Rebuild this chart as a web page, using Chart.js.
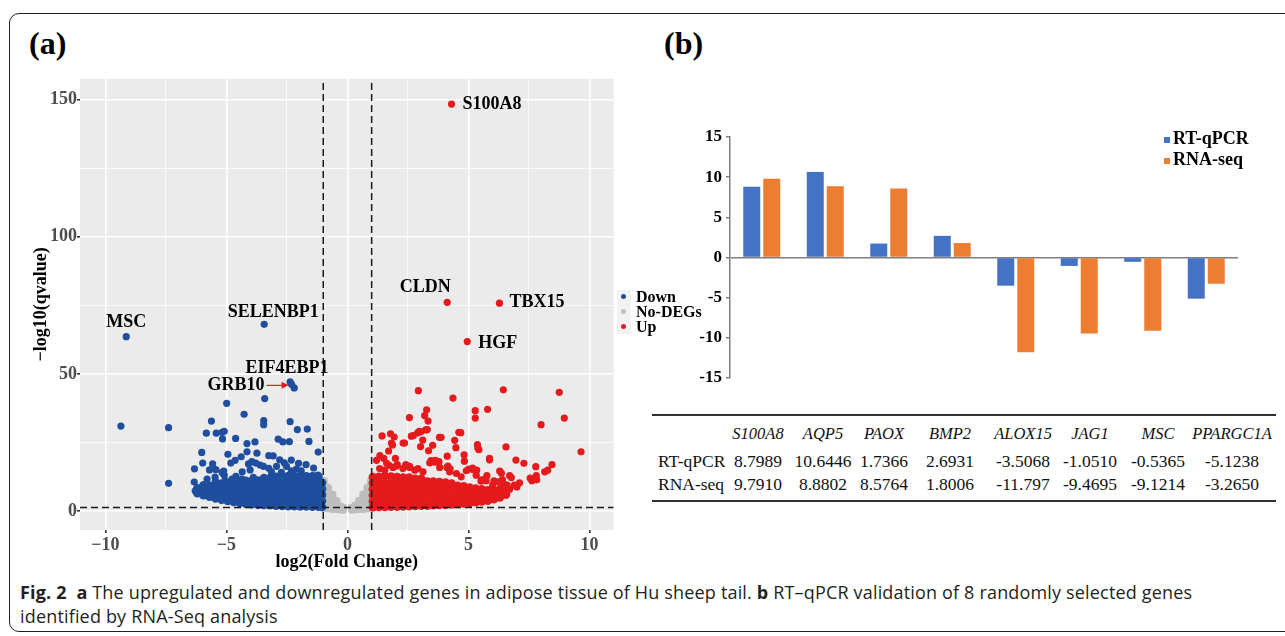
<!DOCTYPE html>
<html>
<head>
<meta charset="utf-8">
<script src="https://cdn.jsdelivr.net/npm/chart.js@4.4.1/dist/chart.umd.min.js"></script>
<style>
  body { margin: 0; width: 1285px; height: 636px; background: #fff; position: relative; overflow: hidden; font-family: "Liberation Serif", serif; }
  .frame { position: absolute; left: 9px; top: 13px; width: 1330px; height: 617px; border: 1.5px solid #231f20; border-radius: 10px; }
  .tag { position: absolute; top: 25px; font: bold 32px "Liberation Serif", serif; color: #000; }
  #wrapA { position: absolute; left: 14px; top: 68px; }
  #wrapB { position: absolute; left: 650px; top: 110px; }
  .legA { position: absolute; left: 617px; top: 289px; font: bold 16px "Liberation Serif", serif; }
  .legA .keys { position: absolute; left: 0; top: 1px; width: 14px; height: 44px; background: #F2F2F2; }
  .legA .item { position: absolute; left: 0; height: 15px; line-height: 15px; white-space: nowrap; }
  .legA .dot { position: absolute; left: 4px; top: 5px; width: 5px; height: 5px; border-radius: 50%; }
  .legA .txt { position: absolute; left: 19px; top: 0; }
  .legB { position: absolute; left: 1164px; top: 128px; font: bold 18px "Liberation Serif", serif; }
  .legB .item { position: relative; height: 21px; line-height: 21px; padding-left: 9px; white-space: nowrap; }
  .legB .sq { position: absolute; left: 0; top: 9px; width: 6px; height: 6px; }
  .tbl { position: absolute; left: 652px; top: 414px; width: 624px; height: 84px; border-top: 2px solid #333; border-bottom: 2px solid #333; font-size: 17.5px; color: #111; }
  .tbl span { position: absolute; transform: translate(-50%, -50%); white-space: nowrap; }
  .tbl span.lab { transform: translate(0, -50%); }
  .tbl span.hd { font-style: italic; font-size: 16.5px; }
  .caption { position: absolute; left: 20px; top: 580px; width: 1260px; font: 18px "Open Sans", sans-serif; letter-spacing: 0.17px; line-height: 24px; color: #231f20; white-space: nowrap; }
  .caption b { font-weight: 700; }
</style>
</head>
<body>
<div class="frame"></div>
<div class="tag" style="left:29px">(a)</div>
<div class="tag" style="left:664px">(b)</div>

<div id="wrapA"><canvas id="volcano" width="604" height="507"></canvas></div>
<div class="legA" id="legA"><div class="keys"></div></div>

<div id="wrapB"><canvas id="bars" width="600" height="290"></canvas></div>
<div class="legB" id="legB"></div>

<div class="tbl" id="tbl"></div>

<div class="caption"><b>Fig. 2</b>&nbsp; <b>a</b> The upregulated and downregulated genes in adipose tissue of Hu sheep tail. <b>b</b> RT–qPCR validation of 8 randomly selected genes<br>identified by RNA-Seq analysis</div>

<script>
// ---- volcano data (log2 fold change, -log10 qvalue)
const labelGenes = ['S100A8', 'CLDN', 'TBX15', 'HGF', 'MSC', 'SELENBP1', 'EIF4EBP1', 'GRB10'];
const labelFC    = [4.30, 4.12, 6.28, 4.95, -9.14, -3.44, -2.37, -2.31];
const labelQ     = [148.4, 76.1, 75.8, 61.8, 63.6, 68.1, 47.1, 46.2];

const downOutliers = [
  [-9.36,31],[-7.39,30.4],[-7.39,10.1],[-2.2,44.9],[-4.99,39.3],[-3.42,41],[-5.62,32.8],[-4.27,35.3],
  [-3.46,33],[-3.46,31.5],[-2.37,32.6],[-5.83,28.4],[-5.42,28.4],[-5.18,28.7],[-5.09,29.1],[-5.16,26.3],
  [-4.62,26.5],[-2.07,29.7],[-1.66,29.9],[-2.86,26.2],[-2.67,25.2],[-2.4,25.3],[-1.59,25.4],[-4.15,24.6],
  [-3.82,25.2],[-1.21,21.5],[-6.02,21.4],[-4.94,20.7],[-4.15,21.6],[-3.74,21.1],[-4.39,19.8],[-3.25,20.2],
  [-3.07,20.1],[-5.98,17.5],[-5.57,17.2],[-4.82,17.5],[-4.64,18.5],[-2.8,18.7],[-2.61,17.6],[-2.32,18.6],
  [-2.02,17.4],[-1.71,16.9],[-6.32,15.4],[-5.7,15],[-5.44,15.1],[-5.11,14.6],[-4.35,14.3],[-4.02,15],
  [-1.4,15.7],[-6.33,10.6],[-5.8,11.7],[-5.47,12.4],[-5.09,13.1],[-6.03,8.4],[-6.29,7.4],
  [-5.18,14.1],[-4.77,11.7],[-4.61,12.7],[-4.09,17.2],[-3.95,18],[-3.79,17.5],[-3.61,16.8],[-3.47,16.3],
  [-3.25,15.6],[-3.14,14.3],[-2.93,16.3],[-2.73,14.1],[-2.52,16.3],[-2.32,14.7],[-2.11,15.3],[-1.91,14.7],
  [-1.66,12.7],[-1.43,12.9],[-1.22,13.1],[-5.46,11.1],[-5.73,9.2],[-5.05,11.1],[-4.36,11.7],[-3.89,12.3],[-2.86,11.7]
];
const downCore = [
  [-6.2,[6.5,8.3]],[-5.95,[5.8,7.8,9.4]],[-5.7,[5.2,7.3,9.2]],[-5.45,[4.6,6.8,9,10]],
  [-5.2,[4.1,6.3,8.5,10]],[-4.95,[3.7,5.9,8.1,10.2]],[-4.7,[3.3,5.5,7.7,9.9]],[-4.45,[3,5.2,7.4,9.6,10.8]],
  [-4.2,[2.7,4.9,7.1,9.3,11]],[-3.95,[2.5,4.7,6.9,9.1,11]],[-3.7,[2.3,4.5,6.7,8.9,11.1]],
  [-3.45,[2.2,4.4,6.6,8.8,11,12]],[-3.2,[2.1,4.3,6.5,8.7,10.9,12]],[-2.95,[2,4.2,6.4,8.6,10.8,12.5]],
  [-2.7,[1.9,4.1,6.3,8.5,10.7,12.5]],[-2.45,[1.8,4,6.2,8.4,10.6,12.8]],[-2.2,[1.8,4,6.2,8.4,10.6,12.8]],
  [-1.95,[1.7,3.9,6.1,8.3,10.5,12.7]],[-1.7,[1.7,3.9,6.1,8.3,10.5,12.7]],[-1.45,[1.6,3.8,6,8.2,10.4,12.6]],
  [-1.2,[1.6,3.8,6,8.2,10.4,12.6]],[-1.05,[1.5,3.7,5.9,8.1,10.3]]
];
const upOutliers = [
  [2.93,43.9],[4.36,41.2],[6.44,44.2],[8.75,43.3],[5.28,36.6],[5.28,33.9],[5.79,37.1],[8.96,33.9],[8.0,31.5],
  [3.27,36.9],[3.19,34.8],[3.33,32.8],[2.56,34.1],[4.6,28.7],[3.23,29.6],[2.97,29.1],[2.9,28.5],[2.64,27.3],
  [3.8,26.9],[1.43,27.4],[1.78,28.2],[1.93,27],[1.82,24.8],[1.86,24.1],[2.3,24.8],[3.11,25.9],[4.43,25.8],
  [3.02,23.5],[3.35,22],[3.52,24],[4.48,23.1],[5.37,24.2],[5.39,22.9],[5.43,22.4],[6.55,23.4],[1.7,21.9],
  [4.12,20],[4.82,20.5],[4.83,18.2],[5.87,19.2],[5.87,18.7],[6.96,18.6],[7.29,17.4],[7.78,16.2],[8.45,16.9],
  [8.15,14.3],[8.27,14.9],[9.65,21.6],[1.2,18.5],[1.34,20.2],[1.5,19.2],[1.98,19.2],[1.62,17.4],[2.06,16.9],
  [2.41,16.9],[2.57,16.3],[3.45,18.4],[3.63,18.5],[3.78,18],[4.15,16.4],[4.24,15.4],[5.01,15.3],[5.17,15.7],
  [5.34,14.9],[6.29,14.6],[6.36,13.8],[6.7,12.9],[6.77,12.2],[7.11,10.3],[7.0,8.8],[7.55,12],[7.62,11.1],
  [7.8,12.9],[7.82,11.4],[6.18,10.7],[5.76,12.9],[5.52,10.9],[5.59,11.4],[4.68,28.6],[3.87,26.9],[2.72,27.5],
  [3.03,28.9],[3.3,29.7],[2.36,24.8],
  [1.33,15.5],[1.54,14.9],[1.72,16.7],[1.88,15.9],[2.02,16.4],[2.29,15.5],[2.43,16.4],[2.57,15.9],[2.78,14.9],
  [2.91,15.5],[3.12,14.3],[3.4,17.6],[3.6,17.8],[3.81,15.9],[4.11,15.9],[4.22,14.3],[4.5,13.7],[4.7,12.5],
  [4.91,14.7],[5.18,15.2],[5.32,13.1],[5.53,11.3],[5.73,11],
  [6.0,9.5],[6.1,7.5],[6.2,6.5],[6.35,8.5],[6.45,10],[6.55,7.5],[6.6,9.5],[6.7,8],[6.9,9.5],[6.4,11.5],[6.05,11]
];
const upCore = [
  [1.05,[1.4,3.6,5.8,8,10.2,12.4]],[1.3,[1.5,3.7,5.9,8.1,10.3,12.5]],[1.55,[1.5,3.7,5.9,8.1,10.3,12.8]],
  [1.8,[1.6,3.8,6,8.2,10.4,12.6]],[2.05,[1.6,3.8,6,8.2,10.4,12.4]],[2.3,[1.7,3.9,6.1,8.3,10.5,12.2]],
  [2.55,[1.8,4,6.2,8.4,10.6,12.2]],[2.8,[1.9,4.1,6.3,8.5,10.7,11.8]],[3.05,[2,4.2,6.4,8.6,10.8,11.8]],
  [3.3,[2,4.2,6.4,8.6,10.8]],[3.55,[2.1,4.3,6.5,8.7,10.8]],[3.8,[2.2,4.4,6.6,8.8,10.6]],
  [4.05,[2.3,4.5,6.7,8.9,10.4]],[4.3,[2.4,4.6,6.8,9,10]],[4.55,[2.6,4.8,7,9.2]],[4.8,[2.8,5,7.2,9]],
  [5.05,[3,5.2,7.4,8.6]],[5.3,[3.2,5.4,7.6,8.2]],[5.55,[3.5,5.7,7.9]],[5.8,[3.8,5.9,7.6]],
  [6.05,[4.3,6.2,7.6]],[6.3,[5,6.8,8]],[6.55,[6,7.8]]
];
const noDegCore = [
  [-0.97,[1,3,5,7,9,11]],[-0.8,[1,3,5,7,8.5]],[-0.62,[0.8,2.8,4.6,6]],[-0.45,[0.8,2.5,3.8]],
  [-0.3,[0.6,1.8]],[-0.18,[0.5,1.2]],[0.18,[0.5,1.2]],[0.32,[0.6,2]],[0.48,[0.8,2.5,3.8]],
  [0.65,[0.8,2.8,4.6,6]],[0.82,[1,3,5,7,8.5]],[0.97,[1,3,5,7,9,11]]
];
const fcCut = [-1, 1];
const qCut = 1.3;
const xTickVals = [-10, -7.5, -5, -2.5, 0, 2.5, 5, 7.5, 10];
const yTickVals = [0, 25, 50, 75, 100, 125, 150];

// ---- RT-qPCR validation data
const genes = ['S100A8', 'AQP5', 'PAOX', 'BMP2', 'ALOX15', 'JAG1', 'MSC', 'PPARGC1A'];
const qpcrText = ['8.7989', '10.6446', '1.7366', '2.6931', '-3.5068', '-1.0510', '-0.5365', '-5.1238'];
const seqText  = ['9.7910', '8.8802', '8.5764', '1.8006', '-11.797', '-9.4695', '-9.1214', '-3.2650'];

// ------------------------------------------------------------
const pts = a => a.map(p => ({x: p[0], y: p[1]}));
const colPts = a => a.flatMap(c => c[1].map(y => ({x: c[0], y: y})));
const labelled = labelGenes.map((g, i) => ({x: labelFC[i], y: labelQ[i]}));

const downCorePts = colPts(downCore);
const upCorePts = colPts(upCore);
const downData = downCorePts.concat(pts(downOutliers), labelled.filter(p => p.x < 0));
const upData = upCorePts.concat(pts(upOutliers), labelled.filter(p => p.x > 0));
const grayData = colPts(noDegCore);

const serif = 'Liberation Serif';
const minus = v => (v < 0 ? '\u2212' + Math.abs(v) : String(v));
const yLim = [-6.9, 157.6];
const xLim = [-11.05, 11];
// core points slightly bigger so the dense cloud reads solid
const radiusFor = n => c => (c.dataIndex < n ? 4.3 : 3.6);

const labelStyle = {
  S100A8:   {dx: 11, dy: 0, align: 'left'},
  CLDN:     {dx: -22, dy: -15, align: 'center'},
  TBX15:    {dx: 10, dy: -1, align: 'left'},
  HGF:      {dx: 11, dy: 2, align: 'left'},
  MSC:      {dx: 0, dy: -14, align: 'center'},
  SELENBP1: {dx: 9, dy: -12, align: 'center'},
  EIF4EBP1: {dx: -3, dy: -14, align: 'center'},
  GRB10:    {dx: -27, dy: 1, align: 'right', arrow: true}
};

const panelBg = {
  id: 'panelBg',
  beforeDraw(chart) {
    const {ctx, chartArea: a} = chart;
    ctx.save();
    ctx.fillStyle = '#EBEBEB';
    ctx.fillRect(a.left, a.top, a.right - a.left, a.bottom - a.top);
    ctx.restore();
  }
};

const geneText = {
  id: 'geneText',
  afterDatasetsDraw(chart) {
    const {ctx, scales: {x, y}} = chart;
    ctx.save();
    ctx.font = 'bold 18px "' + serif + '"';
    ctx.fillStyle = '#000';
    ctx.textBaseline = 'middle';
    labelGenes.forEach((g, i) => {
      const px = x.getPixelForValue(labelFC[i]);
      const py = y.getPixelForValue(labelQ[i]);
      const s = labelStyle[g];
      ctx.textAlign = s.align;
      ctx.fillText(g, px + s.dx, py + s.dy);
      if (s.arrow) {
        const x0 = px + s.dx + 2, x1 = px - 3, yy = py + s.dy;
        ctx.strokeStyle = '#E41A1C';
        ctx.fillStyle = '#E41A1C';
        ctx.lineWidth = 1.2;
        ctx.beginPath(); ctx.moveTo(x0, yy); ctx.lineTo(x1 - 5, yy); ctx.stroke();
        ctx.beginPath(); ctx.moveTo(x1, yy); ctx.lineTo(x1 - 7, yy - 3.5); ctx.lineTo(x1 - 7, yy + 3.5); ctx.closePath(); ctx.fill();
        ctx.fillStyle = '#000';
      }
    });
    ctx.restore();
  }
};

const cutLine = d => ({
  label: 'cut', data: d, showLine: true, pointRadius: 0, borderColor: '#1a1a1a',
  borderWidth: 1.5, borderDash: [7, 4], order: 0
});

const volcano = new Chart(document.getElementById('volcano'), {
  type: 'scatter',
  data: {
    datasets: [
      {label: 'Down', data: downData, backgroundColor: '#1F4E9E', pointRadius: radiusFor(downCorePts.length), borderWidth: 0, order: 2},
      {label: 'No-DEGs', data: grayData, backgroundColor: '#BEBEBE', pointRadius: 4, borderWidth: 0, order: 3},
      {label: 'Up', data: upData, backgroundColor: '#E41A1C', pointRadius: radiusFor(upCorePts.length), borderWidth: 0, order: 1},
      cutLine([{x: fcCut[0], y: yLim[0]}, {x: fcCut[0], y: yLim[1]}]),
      cutLine([{x: fcCut[1], y: yLim[0]}, {x: fcCut[1], y: yLim[1]}]),
      cutLine([{x: xLim[0], y: qCut}, {x: xLim[1], y: qCut}])
    ]
  },
  options: {
    responsive: false,
    animation: false,
    layout: {padding: {top: 10, right: 4, left: 0, bottom: 0}},
    plugins: {legend: {display: false}, tooltip: {enabled: false}},
    scales: {
      x: {
        type: 'linear', min: xLim[0], max: xLim[1],
        afterBuildTicks: s => { s.ticks = xTickVals.map(v => ({value: v})); },
        afterFit: s => { s.height = 45; },
        border: {display: false},
        grid: {
          color: '#fff',
          lineWidth: c => (c.tick && c.tick.value % 5 === 0 ? 1.6 : 0.8),
          drawTicks: true, tickLength: 3,
          tickColor: c => (c.tick && c.tick.value % 5 === 0 ? '#333' : 'rgba(0,0,0,0)')
        },
        ticks: {
          autoSkip: false, maxRotation: 0, padding: 2, color: '#4D4D4D',
          font: {family: serif, size: 18, weight: 'bold'},
          callback: v => (v % 5 === 0 ? minus(v) : '')
        },
        title: {display: true, text: 'log2(Fold Change)', color: '#000', font: {family: serif, size: 18, weight: 'bold'}, padding: {top: 0, bottom: 2}}
      },
      y: {
        type: 'linear', min: yLim[0], max: yLim[1],
        afterBuildTicks: s => { s.ticks = yTickVals.map(v => ({value: v})); },
        afterFit: s => { s.width = 66; },
        border: {display: false},
        grid: {
          color: '#fff',
          lineWidth: c => (c.tick && c.tick.value % 50 === 0 ? 1.6 : 0.8),
          drawTicks: true, tickLength: 3,
          tickColor: c => (c.tick && c.tick.value % 50 === 0 ? '#333' : 'rgba(0,0,0,0)')
        },
        ticks: {
          autoSkip: false, padding: 0, color: '#4D4D4D',
          font: {family: serif, size: 18, weight: 'bold'},
          callback: v => (v % 50 === 0 ? String(v) : '')
        },
        title: {display: true, text: '\u2212log10(qvalue)', color: '#000', font: {family: serif, size: 18, weight: 'bold'}, padding: {top: 17, bottom: 0}}
      }
    }
  },
  plugins: [panelBg, geneText]
});

// legend for (a), taken from the chart's datasets
const legOrder = ['Down', 'No-DEGs', 'Up'];
const legA = document.getElementById('legA');
volcano.data.datasets.filter(d => d.label !== 'cut')
  .sort((a, b) => legOrder.indexOf(a.label) - legOrder.indexOf(b.label))
  .forEach((d, i) => {
    const it = document.createElement('div');
    it.className = 'item';
    it.style.top = (i * 15) + 'px';
    it.innerHTML = '<span class="dot" style="background:' + d.backgroundColor + '"></span><span class="txt">' + d.label + '</span>';
    legA.appendChild(it);
  });

// ---- bar chart (b)
const bars = new Chart(document.getElementById('bars'), {
  type: 'bar',
  data: {
    labels: genes,
    datasets: [
      {label: 'RT-qPCR', data: qpcrText.map(Number), backgroundColor: '#4472C4'},
      {label: 'RNA-seq', data: seqText.map(Number), backgroundColor: '#ED7D31'}
    ]
  },
  options: {
    responsive: false,
    animation: false,
    layout: {padding: {top: 27, right: 12, bottom: 22, left: 0}},
    plugins: {legend: {display: false}, tooltip: {enabled: false}},
    datasets: {bar: {categoryPercentage: 0.63, barPercentage: 0.85}},
    scales: {
      x: {display: false},
      y: {
        min: -15, max: 15,
        afterFit: s => { s.width = 80; },
        border: {display: true, color: '#7F7F7F', width: 1.5},
        grid: {
          color: c => (c.tick && c.tick.value === 0 ? '#7F7F7F' : 'rgba(0,0,0,0)'),
          lineWidth: 1.5, drawTicks: true, tickLength: 4, tickColor: '#7F7F7F'
        },
        ticks: {stepSize: 5, padding: 4, color: '#000', font: {family: serif, size: 17, weight: 'bold'}}
      }
    }
  }
});

const legB = document.getElementById('legB');
bars.data.datasets.forEach(d => {
  const it = document.createElement('div');
  it.className = 'item';
  it.innerHTML = '<span class="sq" style="background:' + d.backgroundColor + '"></span>' + d.label;
  legB.appendChild(it);
});

// ---- table under (b)
const colCenters = [758, 823, 884, 950, 1023, 1090, 1158, 1232];
const tbl = document.getElementById('tbl');
const put = (txt, cls, cx, cy) => {
  const s = document.createElement('span');
  s.className = cls;
  s.textContent = txt;
  s.style.left = (cx - 652) + 'px';
  s.style.top = (cy - 414) + 'px';
  tbl.appendChild(s);
};
genes.forEach((g, i) => put(g, 'hd', colCenters[i], 432));
put('RT-qPCR', 'lab', 658, 459);
put('RNA-seq', 'lab', 658, 482);
qpcrText.forEach((t, i) => put(t, '', colCenters[i], 459));
seqText.forEach((t, i) => put(t, '', colCenters[i], 482));
</script>
</body>
</html>
